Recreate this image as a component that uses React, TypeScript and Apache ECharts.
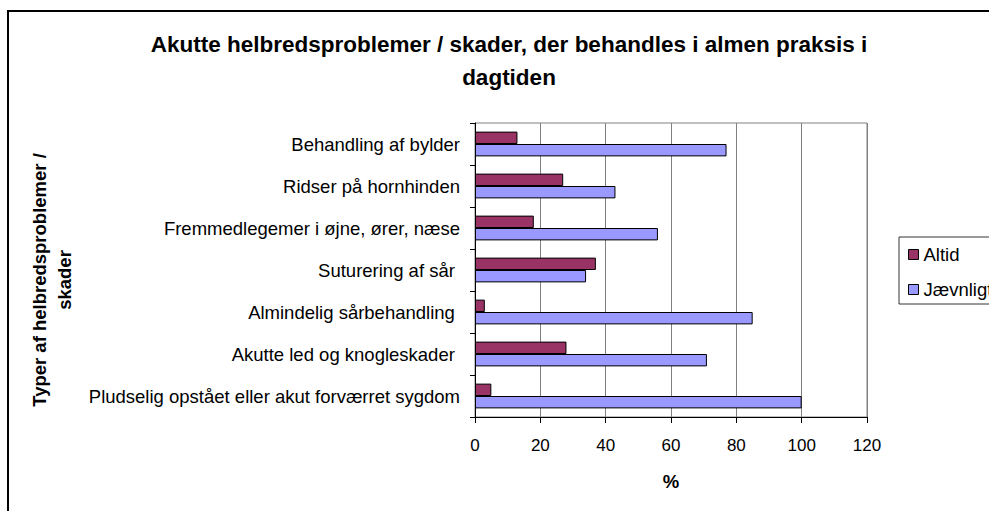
import React, { useEffect, useRef } from "react";
import * as echarts from "echarts";

const categories = [
  "Behandling af bylder",
  "Ridser på hornhinden",
  "Fremmedlegemer i øjne, ører, næse",
  "Suturering af sår ",
  "Almindelig sårbehandling ",
  "Akutte led og knogleskader ",
  "Pludselig opstået eller akut forværret sygdom",
];
const altid = [13, 27, 18, 37, 3, 28, 5];
const jaevnligt = [77, 43, 56, 34, 85, 71, 100];
const seriesNames = ["Altid", "Jævnligt"];
const titleText = "Akutte helbredsproblemer / skader, der behandles i almen praksis i\ndagtiden";
const yAxisTitle = "Typer af helbredsproblemer /\nskader";
const xAxisTitle = "%";

const FONT = "Liberation Sans, Arial, Helvetica, sans-serif";

export default function App() {
  const ref = useRef<HTMLDivElement>(null);
  useEffect(() => {
    if (!ref.current) return;
    const chart = echarts.init(ref.current, null, { renderer: "svg" });
    chart.setOption({
      animation: false,
      backgroundColor: "#fff",
      textStyle: { fontFamily: FONT },
      grid: {
        left: 475,
        top: 123,
        right: 122,
        bottom: 94,
        show: true,
        borderColor: "#808080",
        borderWidth: 1,
        backgroundColor: "transparent",
      },
      legend: {
        orient: "vertical",
        left: 899,
        top: 237,
        padding: [7, 8, 4, 9],
        itemGap: 14,
        itemWidth: 10,
        itemHeight: 10,
        icon: "rect",
        borderColor: "#333",
        borderWidth: 1,
        textStyle: { fontSize: 18.5, color: "#000", fontFamily: FONT, lineHeight: 21, padding: [0, 0, 0, 0] },
        itemStyle: { borderColor: "#000", borderWidth: 1 },
        data: seriesNames,
      },
      xAxis: {
        type: "value",
        min: 0,
        max: 120,
        interval: 20,
        name: xAxisTitle,
        nameLocation: "middle",
        nameGap: 55,
        nameTextStyle: { fontSize: 18.5, fontWeight: "bold", color: "#000", fontFamily: FONT },
        axisLine: { show: true, lineStyle: { color: "#000", width: 1 } },
        axisTick: { show: true, length: 6, lineStyle: { color: "#000" } },
        axisLabel: { fontSize: 17, color: "#000", margin: 20, fontFamily: FONT },
        splitLine: { show: true, lineStyle: { color: "#808080", width: 1 } },
      },
      yAxis: {
        type: "category",
        inverse: true,
        data: categories,
        axisLine: { show: true, lineStyle: { color: "#000", width: 1 } },
        axisTick: { show: true, length: 5, alignWithLabel: false, lineStyle: { color: "#000" } },
        axisLabel: { fontSize: 18.5, color: "#000", margin: 15, fontFamily: FONT },
        splitLine: { show: false },
      },
      series: [
        {
          name: seriesNames[0],
          type: "bar",
          data: altid,
          barGap: "0%",
          barCategoryGap: "41%",
          itemStyle: { color: "#993366", borderColor: "#000", borderWidth: 1 },
        },
        {
          name: seriesNames[1],
          type: "bar",
          data: jaevnligt,
          barGap: "0%",
          barCategoryGap: "41%",
          itemStyle: { color: "#9999FF", borderColor: "#000", borderWidth: 1 },
        },
      ],
      graphic: [
        {
          type: "rect",
          silent: true,
          shape: { x: 8, y: 11, width: 1200, height: 1000 },
          style: { fill: "none", stroke: "#000", lineWidth: 2 },
        },
        {
          type: "text",
          x: 509,
          y: 61,
          style: {
            text: titleText,
            font: "bold 22.5px " + FONT,
            fill: "#000",
            textAlign: "center",
            textVerticalAlign: "middle",
            lineHeight: 33,
          },
        },
        {
          type: "text",
          x: 52,
          y: 280,
          rotation: Math.PI / 2,
          style: {
            text: yAxisTitle,
            font: "bold 18.5px " + FONT,
            fill: "#000",
            textAlign: "center",
            textVerticalAlign: "middle",
            lineHeight: 25,
          },
        },
      ],
    });
    return () => chart.dispose();
  }, []);
  return (
    <div
      ref={ref}
      style={{ position: "absolute", left: 0, top: 0, width: 989, height: 511 }}
    />
  );
}
